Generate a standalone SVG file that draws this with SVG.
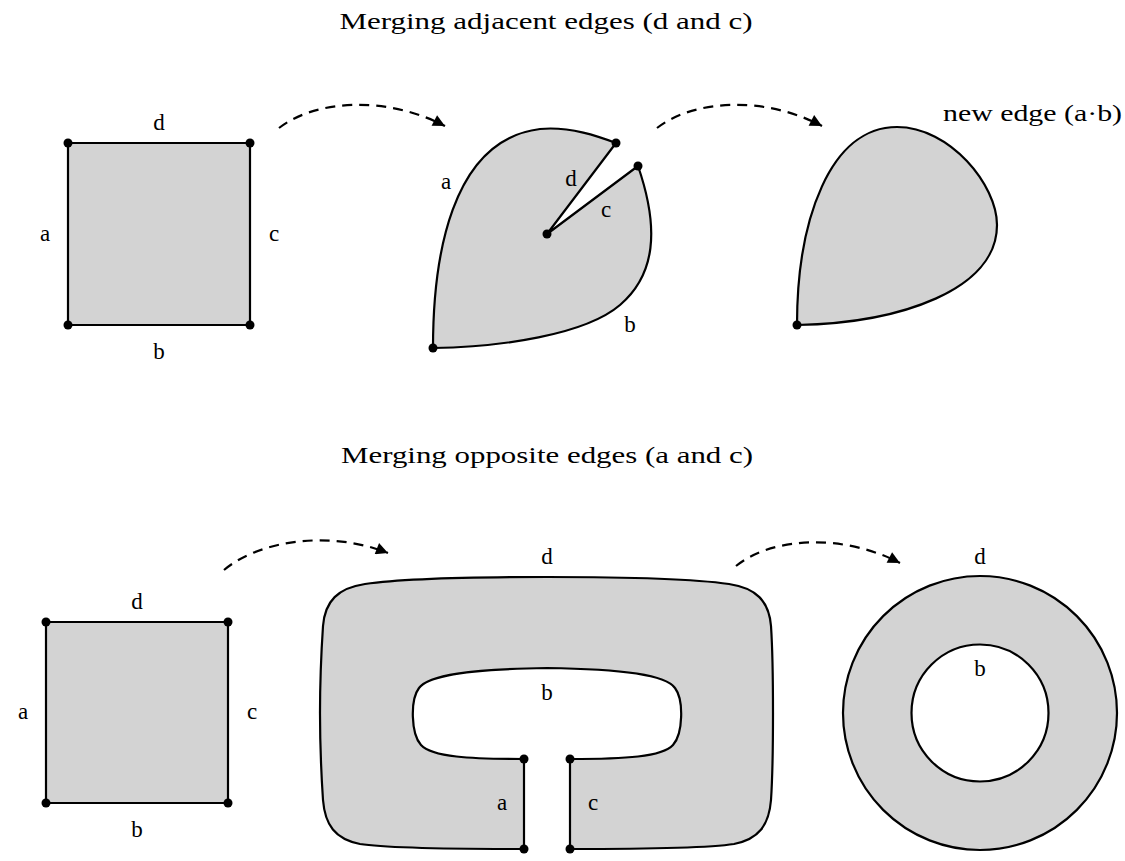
<svg xmlns="http://www.w3.org/2000/svg" width="1125" height="861" viewBox="0 0 1125 861">
<style>
text{font-family:"Liberation Serif","DejaVu Serif",serif;font-size:23px;fill:#000}
.lbl{text-anchor:middle}
.shape{fill:#d3d3d3;stroke:#000;stroke-width:2.2;stroke-linejoin:round}
.hole{fill:#fff;stroke:#000;stroke-width:2.2}
.dot{fill:#000}
.arr{fill:none;stroke:#000;stroke-width:2.2;stroke-dasharray:10,7;marker-end:url(#ah)}
</style>
<defs>
<marker id="ah" viewBox="0 0 10 10" refX="10" refY="5" markerWidth="17" markerHeight="12" markerUnits="userSpaceOnUse" orient="auto">
<path d="M0,0 L10,5 L0,10 z" fill="#000"/>
</marker>
</defs>
<text x="546" y="29" class="lbl" textLength="413" lengthAdjust="spacingAndGlyphs">Merging adjacent edges (d and c)</text>
<text x="547" y="463" class="lbl" textLength="412" lengthAdjust="spacingAndGlyphs">Merging opposite edges (a and c)</text>

<g id="connectors">
<path class="arr" d="M279,128 C315,100 385,95 445,126"/>
<path class="arr" d="M657,128 C693,100 763,95 822,126"/>
<path class="arr" d="M224,570 C260,540 330,530 388,553"/>
<path class="arr" d="M736,566 C772,537 842,533 900,563"/>
</g>

<g id="square-top">
<rect class="shape" x="68" y="143" width="182" height="182"/>
<circle class="dot" cx="68" cy="143" r="4.5"/>
<circle class="dot" cx="250" cy="143" r="4.5"/>
<circle class="dot" cx="68" cy="325" r="4.5"/>
<circle class="dot" cx="250" cy="325" r="4.5"/>
<text class="lbl" x="159" y="130">d</text>
<text class="lbl" x="45" y="241">a</text>
<text class="lbl" x="274" y="241">c</text>
<text class="lbl" x="159" y="359">b</text>
</g>

<g id="merged-adjacent">
<path class="shape" d="M433,348 C433,260 450,140 540,129 C570,126 600,137 616,143 L547,234 L638,166 C660,230 655,275 620,305 C585,335 500,347 433,348 Z"/>
<circle class="dot" cx="433" cy="348" r="4.5"/>
<circle class="dot" cx="616" cy="143" r="4.5"/>
<circle class="dot" cx="638" cy="166" r="4.5"/>
<circle class="dot" cx="547" cy="234" r="4.5"/>
<text class="lbl" x="446" y="189">a</text>
<text class="lbl" x="571" y="186">d</text>
<text class="lbl" x="606" y="217">c</text>
<text class="lbl" x="630" y="332">b</text>
</g>

<g id="teardrop">
<path class="shape" d="M797,325 C797,220 830,127 897,127 C950,127 997,185 997,225 C997,290 900,323 797,325 Z"/>
<circle class="dot" cx="797" cy="325" r="4.5"/>
<text x="943" y="121" textLength="179" lengthAdjust="spacingAndGlyphs">new edge (a·b)</text>
</g>

<g id="square-bottom">
<rect class="shape" x="46" y="622" width="182" height="181"/>
<circle class="dot" cx="46" cy="622" r="4.5"/>
<circle class="dot" cx="228" cy="622" r="4.5"/>
<circle class="dot" cx="46" cy="803" r="4.5"/>
<circle class="dot" cx="228" cy="803" r="4.5"/>
<text class="lbl" x="137" y="609">d</text>
<text class="lbl" x="23" y="719">a</text>
<text class="lbl" x="252" y="719">c</text>
<text class="lbl" x="137" y="837">b</text>
</g>

<g id="merged-opposite">
<path class="shape" d="M524,849 L524,759 C470,759 432,757 421,745 C411,734 410,700 419,688 C428,675 470,669 547,668 C625,669 666,675 675,688 C684,700 683,734 673,745 C662,757 625,759 570,759 L570,849 C644,849 709,848 734,844 C759,839 769,825 771,800 C773,770 773,740 773,713 C773,686 773,656 771,626 C769,601 756,588 729,584 C694,579 624,577 547,577 C470,577 400,579 365,584 C338,588 325,601 323,626 C321,656 320,686 320,713 C320,740 321,770 323,800 C325,825 335,839 360,844 C385,848 450,849 524,849 Z"/>
<circle class="dot" cx="524" cy="759" r="4.5"/>
<circle class="dot" cx="570" cy="759" r="4.5"/>
<circle class="dot" cx="524" cy="849" r="4.5"/>
<circle class="dot" cx="570" cy="849" r="4.5"/>
<text class="lbl" x="547" y="564">d</text>
<text class="lbl" x="547" y="700">b</text>
<text class="lbl" x="502" y="810">a</text>
<text class="lbl" x="593" y="810">c</text>
</g>

<g id="annulus">
<circle class="shape" cx="980" cy="713" r="137"/>
<circle class="hole" cx="980" cy="713" r="68.5"/>
<text class="lbl" x="980" y="564">d</text>
<text class="lbl" x="980" y="676">b</text>
</g>
</svg>
